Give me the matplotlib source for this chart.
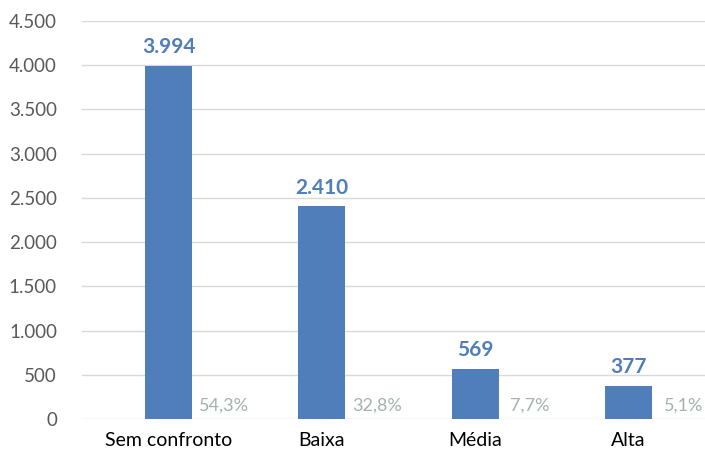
import matplotlib.pyplot as plt
from matplotlib.ticker import FuncFormatter

categorias = ['Sem confronto', 'Baixa', 'Média', 'Alta']
quantidade = [3994, 2410, 569, 377]
percentual = [54.3, 32.8, 7.7, 5.1]

plt.rcParams['font.family'] = ['Lato', 'DejaVu Sans']

azul = '#4F7EBA'
cinza_pct = '#A3B2AD'

def milhar(v):
    return f'{int(v):,}'.replace(',', '.')

fig = plt.figure(figsize=(7.05, 4.55), dpi=100)
ax = fig.add_axes([0.1163, 0.0791, 0.8837, 0.8747])

x = range(len(categorias))
ax.bar(x, quantidade, width=0.306, color=azul, zorder=3)

for i, (q, p) in enumerate(zip(quantidade, percentual)):
    ax.annotate(milhar(q), (i, q), xytext=(0, 6), textcoords='offset points',
                ha='center', va='bottom', fontsize=15, fontweight='bold', color=azul)
    ax.annotate(f'{p:.1f}%'.replace('.', ','), (i + 0.36, 0), xytext=(0, 4),
                textcoords='offset points', ha='center', va='bottom',
                fontsize=13, color=cinza_pct)

ax.set_xlim(-0.564, 3.5)
ax.set_ylim(0, 4500)
ax.set_yticks(range(0, 4501, 500))
ax.yaxis.set_major_formatter(FuncFormatter(lambda v, _: milhar(v)))
ax.set_xticks(list(x))
ax.set_xticklabels(categorias)

ax.grid(axis='y', color='#D9D9D9', linewidth=1, zorder=0)
for s in ax.spines.values():
    s.set_visible(False)
ax.tick_params(axis='both', length=0)
ax.tick_params(axis='y', labelsize=13.5, labelcolor='#595959', pad=18)
ax.tick_params(axis='x', labelsize=14, labelcolor='black', pad=9)

fig.savefig('out.png', dpi=100)
